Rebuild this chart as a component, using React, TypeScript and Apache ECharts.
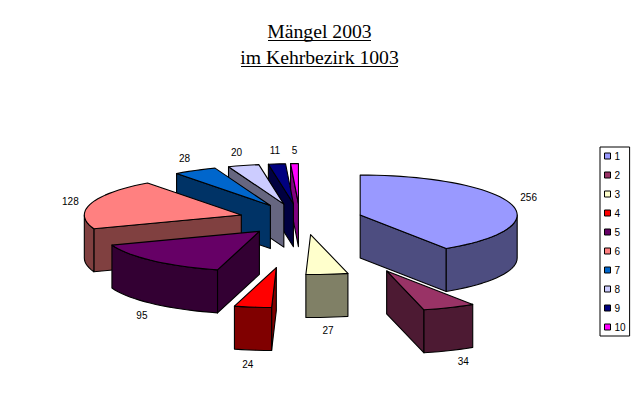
import React, { useEffect, useRef } from "react";
import * as echarts from "echarts";

const categories = ["1", "2", "3", "4", "5", "6", "7", "8", "9", "10"];
const values = [256, 34, 27, 24, 95, 128, 28, 20, 11, 5];
const topColors = ["#9999FF", "#993366", "#FFFFCC", "#FF0000", "#660066", "#FF8080", "#0066CC", "#CCCCFF", "#000080", "#FF00FF"];
const sideColors = ["#4D4D80", "#4D1A33", "#808066", "#800000", "#330033", "#804040", "#003366", "#666680", "#000040", "#800080"];
const explosions = [0.4, 1.4, 0.4, 1.2, 0.4, 0.4, 0.4, 0.4, 0.4, 0.4];
const titleLines = ["Mängel 2003", "im Kehrbezirk 1003"];

// layout of the 3D projection
const CX = 300, CY = 219.6, RX = 157, RY = 40, DEPTH = 43;
const sliceShifts = [[0, 0], [-1, 0], [4, -1], [4.5, 0.5], [2, 0], [1.5, 0], [0.5, 0], [0, 0], [0, 0], [0, 0]];
const labelOffsets = [[18, -6], [14, 54], [1, 56], [-5, 57.5], [-11, 55], [-20.5, -2], [-10.5, -12], [-7, -13], [-2, -13], [0, -13]];
const total = values.reduce((s, v) => s + v, 0);
const startAngles = values.map((_, i) => (values.slice(0, i).reduce((s, v) => s + v, 0) / total) * 360);
const rad = (d: number) => (d * Math.PI) / 180;

function face(points: number[][], fill: string) {
  return { type: "polygon", shape: { points }, style: { fill, stroke: "#000", lineWidth: 1.1, lineJoin: "round" }, silent: true };
}

function renderSlice(i: number, api: any) {
  const sweep = (api.value(0) / total) * 360;
  const a0 = startAngles[i];
  const a1 = a0 + sweep;
  const mid = (a0 + a1) / 2;
  const e = explosions[i];
  const ax = CX + sliceShifts[i][0] + e * RX * Math.sin(rad(mid));
  const ay = CY + sliceShifts[i][1] - e * RY * Math.cos(rad(mid));
  const pt = (d: number, h = 0) => [ax + RX * Math.sin(rad(d)), ay - RY * Math.cos(rad(d)) + h];
  const arc = (from: number, to: number, h = 0) => {
    const n = Math.max(2, Math.ceil((to - from) / 3));
    const out: number[][] = [];
    for (let k = 0; k <= n; k++) out.push(pt(from + ((to - from) * k) / n, h));
    return out;
  };
  const children: any[] = [];
  const side = sideColors[i];
  const radial = (d: number) => face([[ax, ay], pt(d), pt(d, DEPTH), [ax, ay + DEPTH]], side);
  if (Math.sin(rad(a0)) < -1e-6) children.push(radial(a0));
  if (Math.sin(rad(a1)) > 1e-6) children.push(radial(a1));
  const f0 = Math.max(a0, 90), f1 = Math.min(a1, 270);
  if (f1 > f0) children.push(face([...arc(f0, f1), ...arc(f0, f1, DEPTH).reverse()], side));
  children.push(face([[ax, ay], ...arc(a0, a1)], topColors[i]));
  const m = pt(mid);
  children.push({
    type: "text",
    x: m[0] + labelOffsets[i][0],
    y: m[1] + labelOffsets[i][1],
    silent: true,
    style: { text: String(api.value(0)), fill: "#000", fontSize: 10, fontFamily: "'Liberation Sans', Arial", align: "center", verticalAlign: "middle" },
  });
  return { type: "group", children };
}

export default function App() {
  const ref = useRef<HTMLDivElement>(null);
  useEffect(() => {
    const chart = echarts.init(ref.current!, undefined, { renderer: "svg" });
    chart.setOption({
      animation: false,
      backgroundColor: "#fff",
      title: {
        text: titleLines.join("\n"),
        left: 319.5,
        top: 18,
        textAlign: "center",
        padding: 0,
        textStyle: { fontFamily: "'Liberation Serif', 'Times New Roman'", fontSize: 19.7, lineHeight: 26, fontWeight: "normal", color: "#000" },
      },
      legend: {
        orient: "vertical",
        left: 600,
        top: 147,
        padding: [3, 4, 3, 4],
        data: categories,
        icon: "rect",
        itemWidth: 6,
        itemHeight: 6,
        itemGap: 7,
        backgroundColor: "#fff",
        borderColor: "#000",
        borderWidth: 1,
        selectedMode: false,
        itemStyle: { borderColor: "#000", borderWidth: 1 },
        textStyle: { fontFamily: "'Liberation Sans', Arial", fontSize: 10, color: "#000", padding: [0, 0, 0, -1], lineHeight: 12 },
      },
      graphic: [
        { type: "line", shape: { x1: 268, y1: 40.5, x2: 371, y2: 40.5 }, style: { stroke: "#000", lineWidth: 1 } },
        { type: "line", shape: { x1: 241, y1: 66.5, x2: 398, y2: 66.5 }, style: { stroke: "#000", lineWidth: 1 } },
      ],
      // painted from the back of the pie to the front
      series: categories
        .map((name, i) => ({
          type: "custom",
          name,
          coordinateSystem: "none",
          silent: true,
          z: 2 + (categories.length - i),
          itemStyle: { color: topColors[i] },
          data: [[values[i]]],
          renderItem: (_: any, api: any) => renderSlice(i, api),
        })),
    });
    return () => chart.dispose();
  }, []);
  return <div ref={ref} style={{ position: "absolute", left: 0, top: 0, width: 639, height: 406 }} />;
}
